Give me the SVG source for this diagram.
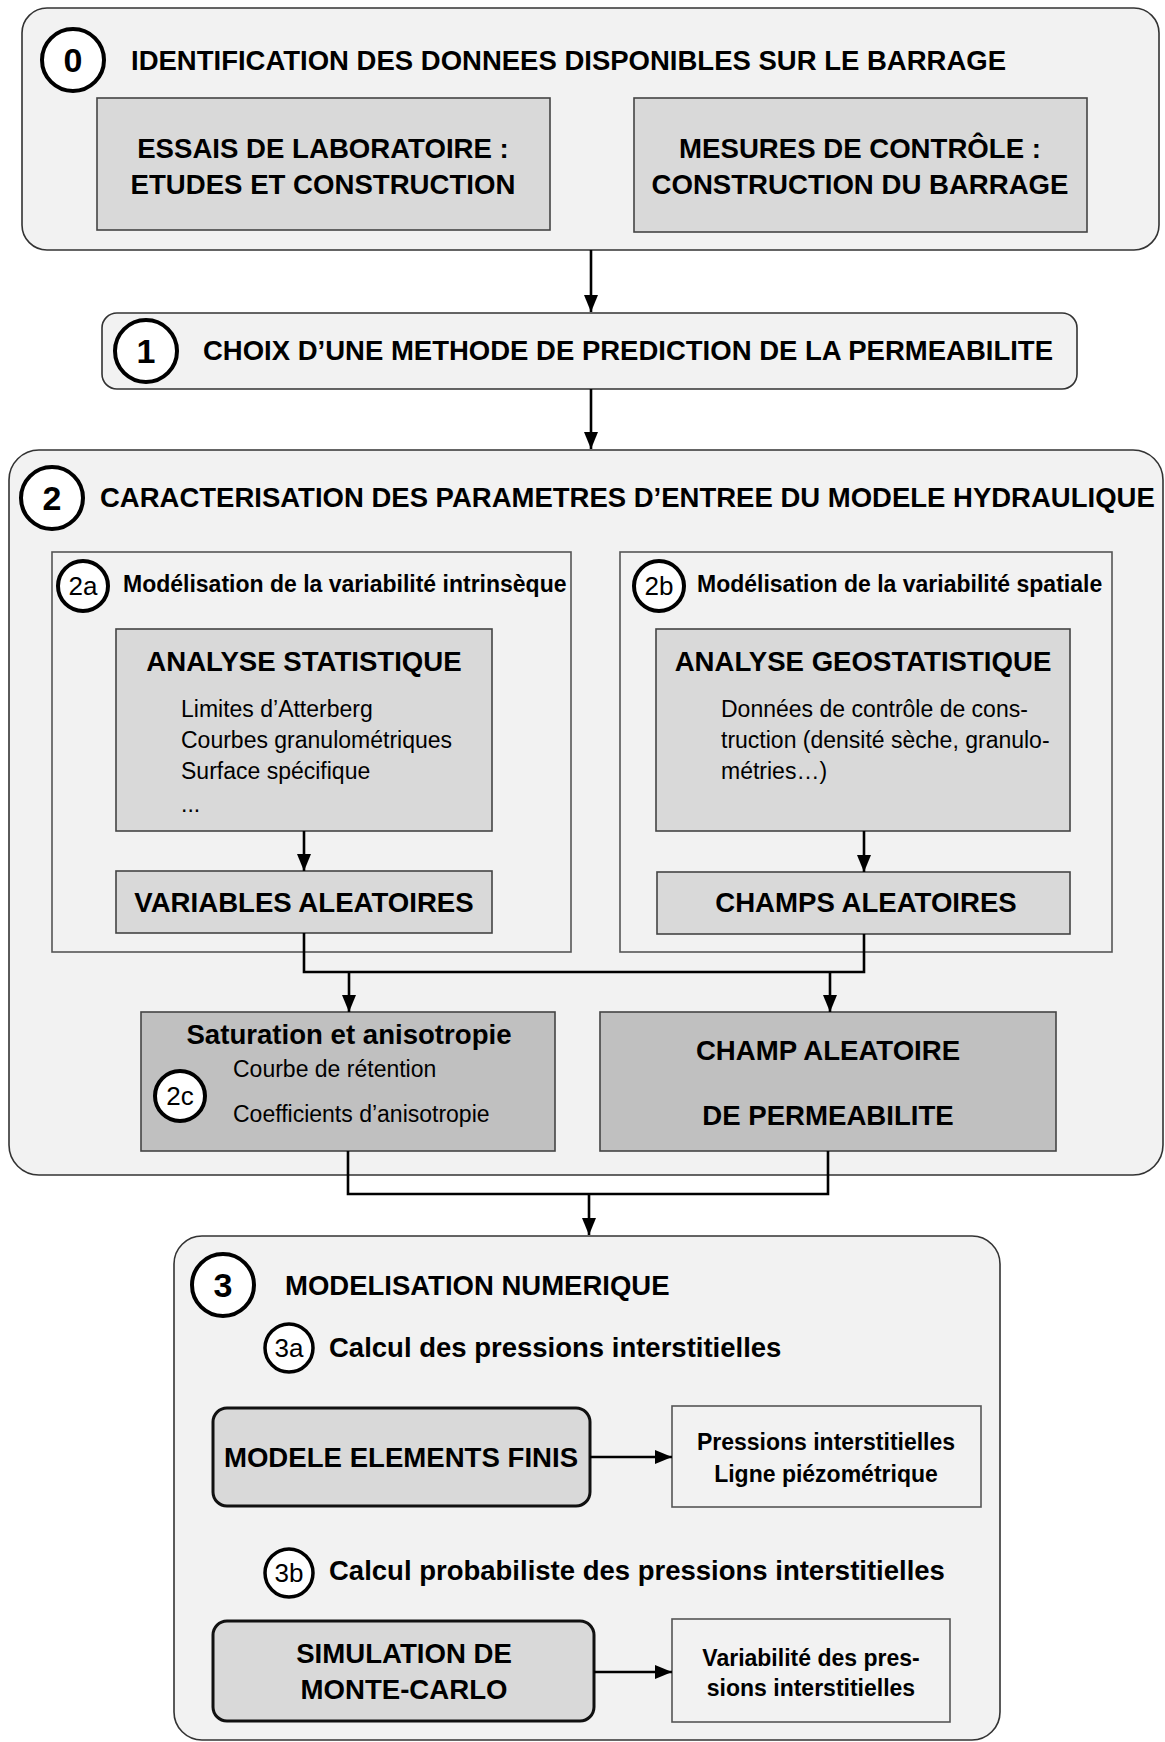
<svg xmlns="http://www.w3.org/2000/svg" width="1165" height="1742" viewBox="0 0 1165 1742">
<defs>
<marker id="ah" markerUnits="userSpaceOnUse" markerWidth="17" markerHeight="14" refX="17" refY="7" orient="auto">
<path d="M0,0 L17,7 L0,14 z" fill="#000"/>
</marker>
<style>
text{font-family:"Liberation Sans",Arial,sans-serif;fill:#000}
.h{font-size:27.5px;font-weight:bold}
.hm{font-size:27.6px;font-weight:bold;text-anchor:middle}
.s{font-size:23px}
.sb{font-size:23px;font-weight:bold}
.sbm{font-size:23px;font-weight:bold;text-anchor:middle}
.num{font-size:34px;font-weight:bold;text-anchor:middle}
.sn{font-size:26px;text-anchor:middle}
.cont{fill:#f2f2f2;stroke:#333;stroke-width:1.6}
.sub{fill:#f2f2f2;stroke:#555;stroke-width:1.6}
.box{fill:#d9d9d9;stroke:#444;stroke-width:1.6}
.dbox{fill:#c0c0c0;stroke:#444;stroke-width:1.6}
.rbox{fill:#d9d9d9;stroke:#111;stroke-width:3}
.big{fill:#fff;stroke:#000;stroke-width:4}
.small{fill:#fff;stroke:#000;stroke-width:3.5}
.ln{fill:none;stroke:#000;stroke-width:2.6}
</style>
</defs>
<rect width="1165" height="1742" fill="#fff"/>

<g id="step0">
<rect class="cont" x="22" y="8" width="1137" height="242" rx="25"/>
<circle class="big" cx="73" cy="60" r="31"/>
<text class="num" x="73" y="72">0</text>
<text class="h" x="131" y="70">IDENTIFICATION DES DONNEES DISPONIBLES SUR LE BARRAGE</text>
</g>
<g id="essais">
<rect class="box" x="97" y="98" width="453" height="132"/>
<text class="hm" x="323" y="158">ESSAIS DE LABORATOIRE :</text>
<text class="hm" x="323" y="194">ETUDES ET CONSTRUCTION</text>
</g>
<g id="mesures">
<rect class="box" x="634" y="98" width="453" height="134"/>
<text class="hm" x="860" y="158">MESURES DE CONTRÔLE :</text>
<text class="hm" x="860" y="194">CONSTRUCTION DU BARRAGE</text>
</g>

<g id="step1">
<rect class="cont" x="102" y="313" width="975" height="76" rx="15"/>
<circle class="big" cx="146" cy="351" r="31"/>
<text class="num" x="146" y="363">1</text>
<text class="h" x="203" y="360">CHOIX D’UNE METHODE DE PREDICTION DE LA PERMEABILITE</text>
</g>

<g id="step2">
<rect class="cont" x="9" y="450" width="1154" height="725" rx="30"/>
<circle class="big" cx="52" cy="498" r="31"/>
<text class="num" x="52" y="510">2</text>
<text class="h" x="100" y="507">CARACTERISATION DES PARAMETRES D’ENTREE DU MODELE HYDRAULIQUE</text>
</g>

<g id="step2a">
<rect class="sub" x="52" y="552" width="519" height="400"/>
<circle class="big" cx="83" cy="586" r="25"/>
<text class="sn" x="83" y="595">2a</text>
<text class="sb" x="123" y="592">Modélisation de la variabilité intrinsèque</text>
</g>
<g id="analyse-stat">
<rect class="box" x="116" y="629" width="376" height="202"/>
<text class="hm" x="304" y="671">ANALYSE STATISTIQUE</text>
<text class="s" x="181" y="717">Limites d’Atterberg</text>
<text class="s" x="181" y="748">Courbes granulométriques</text>
<text class="s" x="181" y="779">Surface spécifique</text>
<text class="s" x="181" y="812">...</text>
</g>
<g id="variables">
<rect class="box" x="116" y="871" width="376" height="62"/>
<text class="hm" x="304" y="912">VARIABLES ALEATOIRES</text>
</g>

<g id="step2b">
<rect class="sub" x="620" y="552" width="492" height="400"/>
<circle class="big" cx="659" cy="586" r="25"/>
<text class="sn" x="659" y="595">2b</text>
<text class="sb" x="697" y="592">Modélisation de la variabilité spatiale</text>
</g>
<g id="analyse-geo">
<rect class="box" x="656" y="629" width="414" height="202"/>
<text class="hm" x="863" y="671">ANALYSE GEOSTATISTIQUE</text>
<text class="s" x="721" y="717">Données de contrôle de cons-</text>
<text class="s" x="721" y="748">truction (densité sèche, granulo-</text>
<text class="s" x="721" y="779">métries…)</text>
</g>
<g id="champs">
<rect class="box" x="657" y="872" width="413" height="62"/>
<text class="hm" x="866" y="912">CHAMPS ALEATOIRES</text>
</g>

<g id="saturation">
<rect class="dbox" x="141" y="1012" width="414" height="139"/>
<text class="hm" x="349" y="1044">Saturation et anisotropie</text>
<text class="s" x="233" y="1077">Courbe de rétention</text>
<text class="s" x="233" y="1122">Coefficients d’anisotropie</text>
<circle class="big" cx="180" cy="1096" r="25"/>
<text class="sn" x="180" y="1105">2c</text>
</g>
<g id="champ-perm">
<rect class="dbox" x="600" y="1012" width="456" height="139"/>
<text class="hm" x="828" y="1060">CHAMP ALEATOIRE</text>
<text class="hm" x="828" y="1125">DE PERMEABILITE</text>
</g>

<g id="step3">
<rect class="cont" x="174" y="1236" width="826" height="504" rx="28"/>
<circle class="big" cx="223" cy="1285" r="31"/>
<text class="num" x="223" y="1297">3</text>
<text class="h" x="285" y="1295">MODELISATION NUMERIQUE</text>
<circle class="small" cx="289" cy="1348" r="24"/>
<text class="sn" x="289" y="1357">3a</text>
<text class="h" x="329" y="1357">Calcul des pressions interstitielles</text>
<circle class="small" cx="289" cy="1573" r="24"/>
<text class="sn" x="289" y="1582">3b</text>
<text class="h" x="329" y="1580">Calcul probabiliste des pressions interstitielles</text>
</g>
<g id="modele">
<rect class="rbox" x="213" y="1408" width="377" height="98" rx="14"/>
<text class="hm" x="401" y="1467">MODELE ELEMENTS FINIS</text>
</g>
<g id="pressions">
<rect class="sub" x="672" y="1406" width="309" height="101"/>
<text class="sbm" x="826" y="1450">Pressions interstitielles</text>
<text class="sbm" x="826" y="1482">Ligne piézométrique</text>
</g>
<g id="simulation">
<rect class="rbox" x="213" y="1621" width="381" height="100" rx="14"/>
<text class="hm" x="404" y="1663">SIMULATION DE</text>
<text class="hm" x="404" y="1699">MONTE-CARLO</text>
</g>
<g id="variabilite">
<rect class="sub" x="672" y="1619" width="278" height="103"/>
<text class="sbm" x="811" y="1666">Variabilité des pres-</text>
<text class="sbm" x="811" y="1696">sions interstitielles</text>
</g>

<g id="connectors">
<path class="ln" d="M591 250 V312" marker-end="url(#ah)"/>
<path class="ln" d="M591 389 V449" marker-end="url(#ah)"/>
<path class="ln" d="M304 831 V871" marker-end="url(#ah)"/>
<path class="ln" d="M864 831 V872" marker-end="url(#ah)"/>
<path class="ln" d="M304 933 V972 H864 V934"/>
<path class="ln" d="M349 972 V1012" marker-end="url(#ah)"/>
<path class="ln" d="M830 972 V1012" marker-end="url(#ah)"/>
<path class="ln" d="M348 1151 V1194 H828 V1151"/>
<path class="ln" d="M589 1194 V1235" marker-end="url(#ah)"/>
<path class="ln" d="M590 1457 H672" marker-end="url(#ah)"/>
<path class="ln" d="M594 1672 H672" marker-end="url(#ah)"/>
</g>
</svg>
